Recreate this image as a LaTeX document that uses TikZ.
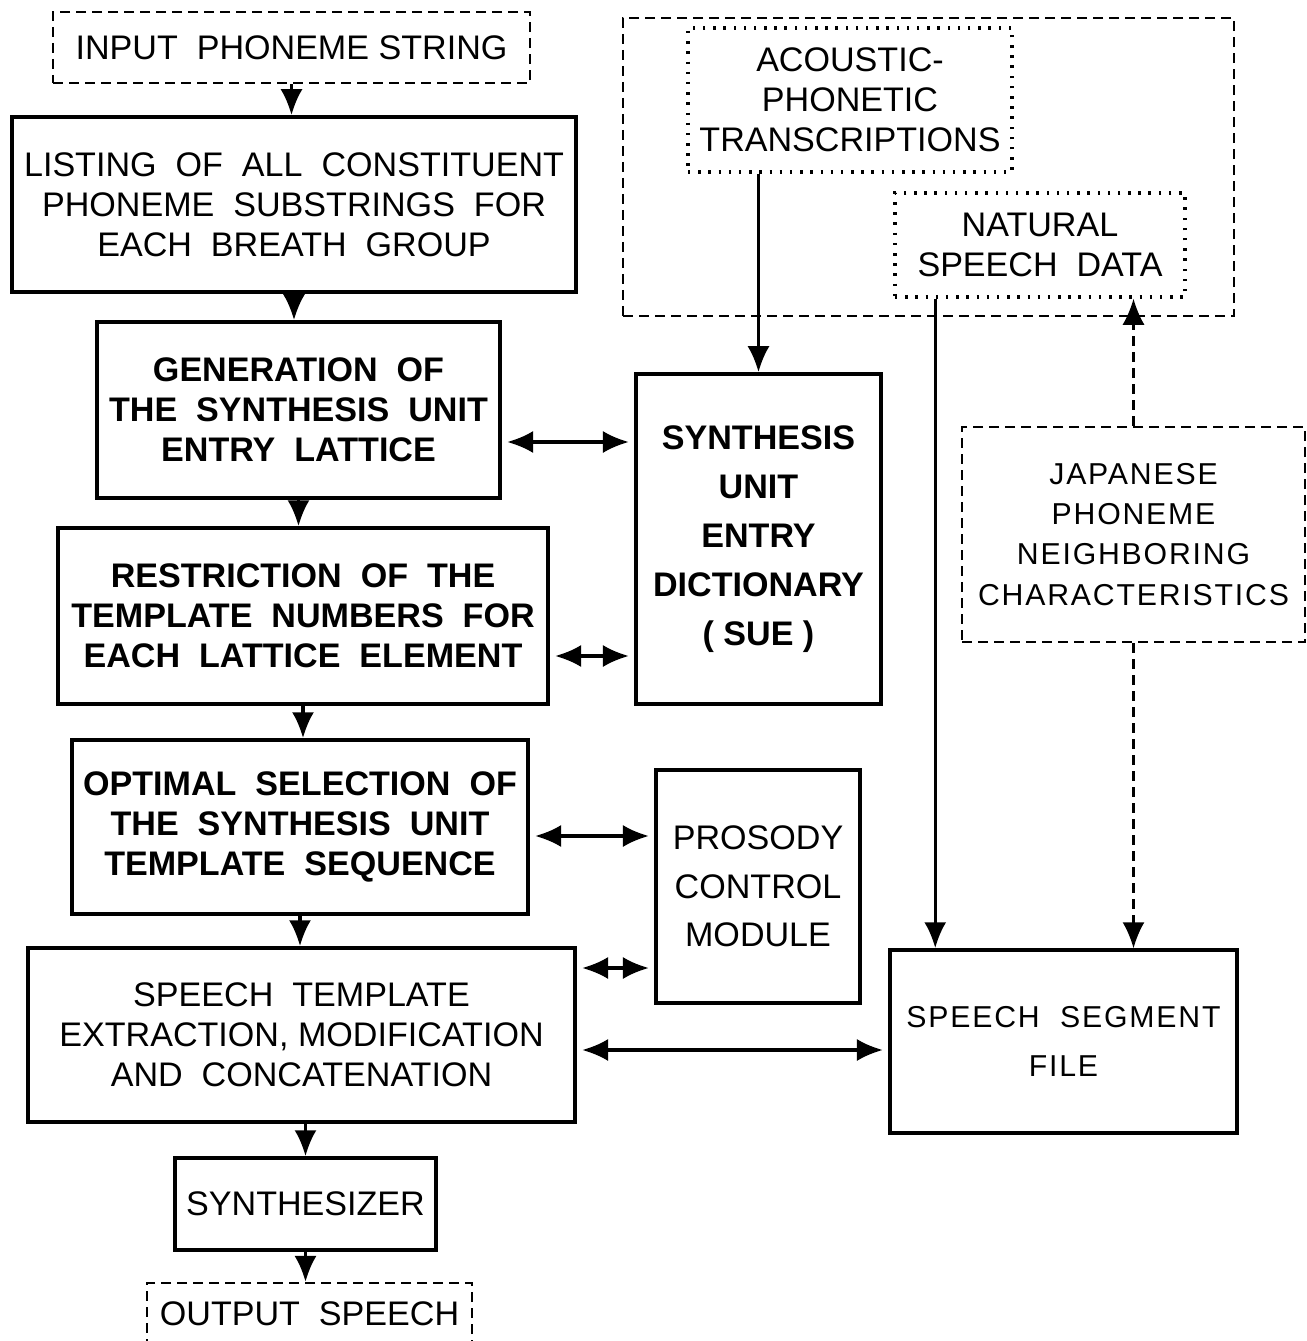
\documentclass[tikz,border=0pt]{standalone}
\usepackage{fontspec}
\setmainfont{Liberation Sans}
\newfontfamily\widefont[LetterSpace=6]{Liberation Sans}
\usetikzlibrary{arrows.meta}

\tikzset{
	box/.style={draw, line width=1pt, align=center, inner sep=0pt, font=\fontsize{9.7}{11.4}\selectfont},
	boldbox/.style={box, font=\fontsize{9.7}{11.4}\selectfont\bfseries},
	dashbox/.style={draw, line width=0.6pt, dash pattern=on 1mm off 0.6mm, align=center, inner sep=0pt, font=\fontsize{9.7}{11.4}\selectfont},
	dotbox/.style={dashbox, line width=1pt, dash pattern=on 0.7pt off 2.2pt},
	dn/.style={-{Latex[length=2.6mm,width=2.2mm]}, line width=0.9pt},
	dashdn/.style={dn, line width=0.6pt, dash pattern=on 1mm off 0.6mm},
	both/.style={{Latex[length=2.6mm,width=2.2mm]}-{Latex[length=2.6mm,width=2.2mm]}, line width=0.9pt, shorten <=1.5pt, shorten >=1.5pt}
}

\begin{document}
\begin{tikzpicture}[x=0.1mm, y=-0.1mm]
	\useasboundingbox (0,0) rectangle (1306,1341);
	\clip (0,0) rectangle (1306,1341);
	\node[dashbox, minimum width=4.77cm, minimum height=0.71cm] (inp) at (291.5,47.5) {INPUT\ \ PHONEME STRING};
	\node[box, minimum width=5.64cm, minimum height=1.75cm] (lst) at (294,204.5) {LISTING\ \ OF\ \ ALL\ \ CONSTITUENT\\PHONEME\ \ SUBSTRINGS\ \ FOR\\EACH\ \ BREATH\ \ GROUP};
	\node[boldbox, minimum width=4.03cm, minimum height=1.76cm] (gen) at (298.5,410) {GENERATION\ \ OF\\THE\ \ SYNTHESIS\ \ UNIT\\ENTRY\ \ LATTICE};
	\node[boldbox, minimum width=4.90cm, minimum height=1.76cm] (res) at (303,616) {RESTRICTION\ \ OF\ \ THE\\TEMPLATE\ \ NUMBERS\ \ FOR\\EACH\ \ LATTICE\ \ ELEMENT};
	\node[boldbox, minimum width=4.56cm, minimum height=1.74cm] (opt) at (300,827) {OPTIMAL\ \ SELECTION\ \ OF\\THE\ \ SYNTHESIS\ \ UNIT\\TEMPLATE\ \ SEQUENCE};
	\node[box, minimum width=5.47cm, minimum height=1.74cm] (ext) at (301.5,1035) {SPEECH\ \ TEMPLATE\\EXTRACTION,\ MODIFICATION\\AND\ \ CONCATENATION};
	\node[box, minimum width=2.61cm, minimum height=0.92cm] (syn) at (305.5,1204) {SYNTHESIZER};
	\node[dashbox, minimum width=3.25cm, minimum height=0.62cm] (out) at (309.5,1314) {OUTPUT\ \ SPEECH};

	\node[dashbox, minimum width=6.11cm, minimum height=2.98cm] (src) at (928.5,167) {};
	\node[dotbox, minimum width=3.24cm, minimum height=1.44cm] (aco) at (850,100) {ACOUSTIC-\\PHONETIC\\TRANSCRIPTIONS};
	\node[dotbox, minimum width=2.90cm, minimum height=1.04cm] (nat) at (1040,245) {NATURAL\\SPEECH\ \ DATA};
	\node[boldbox, font=\fontsize{9.7}{13.9}\selectfont\bfseries, minimum width=2.45cm, minimum height=3.30cm] (sue) at (758.5,539) {SYNTHESIS\\UNIT\\ENTRY\\DICTIONARY\\( SUE )};
	\node[box, font=\fontsize{9.7}{13.8}\selectfont, minimum width=2.04cm, minimum height=2.33cm] (pro) at (758,886.5) {PROSODY\\CONTROL\\MODULE};
	\node[dashbox, font=\fontsize{8.6}{11.4}\widefont, minimum width=3.43cm, minimum height=2.15cm] (jap) at (1133.5,534.5) {JAPANESE\\PHONEME\\NEIGHBORING\\CHARACTERISTICS};
	\node[box, font=\fontsize{8.6}{13.7}\widefont, minimum width=3.47cm, minimum height=1.83cm] (ssf) at (1063.5,1041.5) {SPEECH\ \ SEGMENT\\FILE};

	\draw[dn] (inp.south) -- (inp.south |- lst.north);
	\draw[dn] (lst.south) -- (lst.south |- gen.north);
	\draw[dn] (gen.south) -- (gen.south |- res.north);
	\draw[dn] (res.south) -- (res.south |- opt.north);
	\draw[dn] (opt.south) -- (opt.south |- ext.north);
	\draw[dn] (syn.north |- ext.south) -- (syn.north);
	\draw[dn] (syn.south) -- (syn.south |- out.north);

	\draw[dn] (aco.south -| sue.north) -- (sue.north);
	\draw[dn] ([xshift=4.2mm]nat.south west) -- ([xshift=4.2mm]nat.south west |- ssf.north);
	\draw[dashdn] (jap.north) -- (jap.north |- nat.south);
	\draw[dashdn] (jap.south) -- (jap.south |- ssf.north);

	\draw[both] ([yshift=-3.2mm]gen.east) -- ([yshift=-3.2mm]gen.east -| sue.west);
	\draw[both] ([yshift=-4mm]res.east) -- ([yshift=-4mm]res.east -| sue.west);
	\draw[both] ([yshift=-0.9mm]opt.east) -- ([yshift=-0.9mm]opt.east -| pro.west);
	\draw[both] ([yshift=6.7mm]ext.east) -- ([yshift=6.7mm]ext.east -| pro.west);
	\draw[both] ([yshift=-1.5mm]ext.east) -- ([yshift=-1.5mm]ext.east -| ssf.west);
\end{tikzpicture}
\end{document}
